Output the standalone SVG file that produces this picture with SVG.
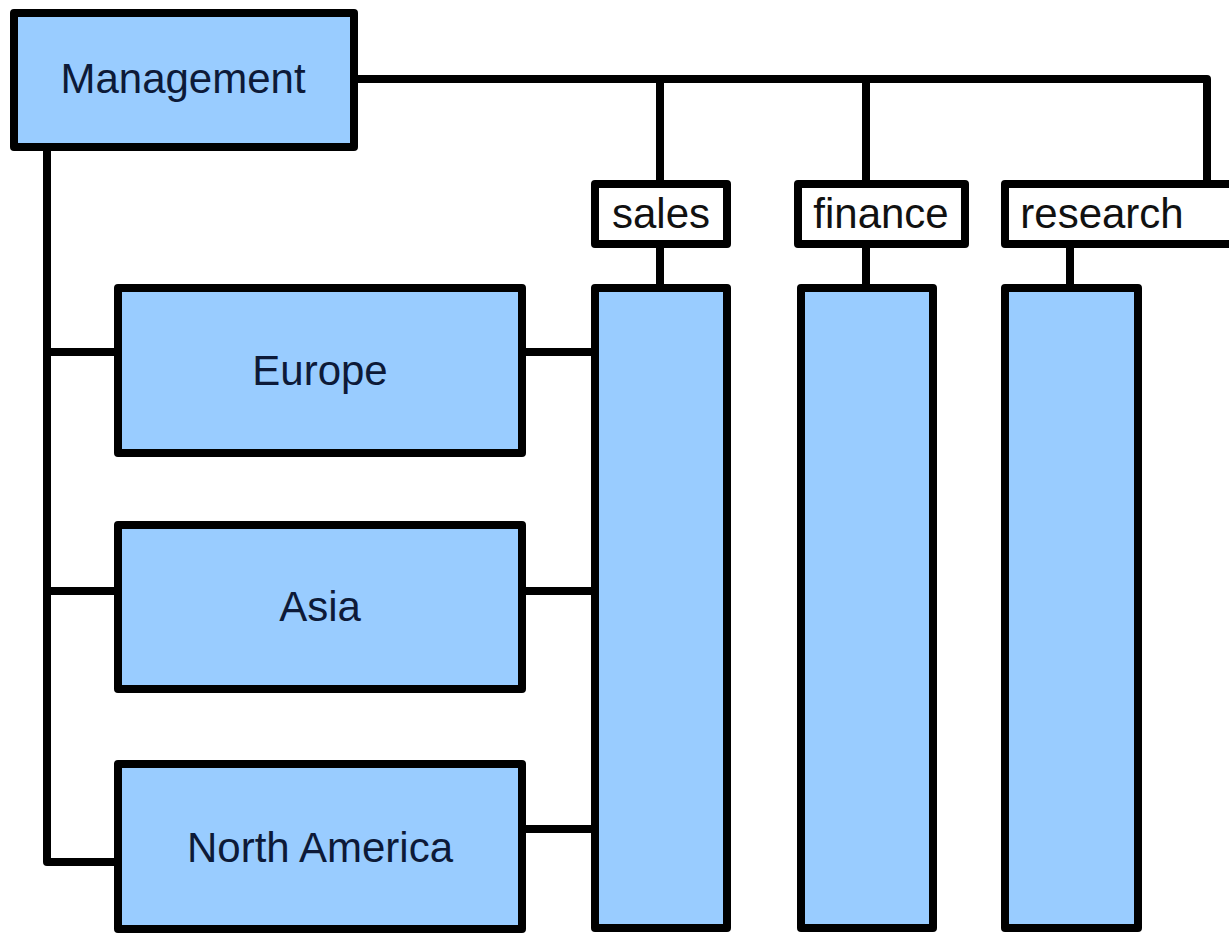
<svg xmlns="http://www.w3.org/2000/svg" width="1229" height="935" viewBox="0 0 1229 935">
<style>
.box{fill:#99ccff;stroke:#000;stroke-width:8;stroke-linejoin:round}
.lbl{fill:#fff;stroke:#000;stroke-width:8;stroke-linejoin:round}
.conn{fill:none;stroke:#000;stroke-width:8;stroke-linejoin:round}
.t{font-family:"Liberation Sans",Arial,sans-serif;font-size:42px;fill:#0d1a38;text-anchor:middle}
.ts{font-family:"Liberation Sans",Arial,sans-serif;font-size:42px;fill:#111;text-anchor:middle}
</style>
<rect width="1229" height="935" fill="#fff"/>
<g id="connectors">
<path class="conn" d="M47 146 V862 H118"/>
<path class="conn" d="M47 352 H118"/>
<path class="conn" d="M47 591 H118"/>
<path class="conn" d="M522 352 H595"/>
<path class="conn" d="M522 591 H595"/>
<path class="conn" d="M522 829 H595"/>
<path class="conn" d="M353 79 H1207 V184"/>
<path class="conn" d="M660 79 V184"/>
<path class="conn" d="M866 79 V184"/>
<path class="conn" d="M660 244 V288"/>
<path class="conn" d="M866 244 V288"/>
<path class="conn" d="M1070 244 V288"/>
</g>
<g id="management">
<rect class="box" x="14" y="13" width="340" height="134"/>
<text class="t" x="183" y="93">Management</text>
</g>
<g id="europe">
<rect class="box" x="118" y="288" width="404" height="165"/>
<text class="t" x="320" y="385">Europe</text>
</g>
<g id="asia">
<rect class="box" x="118" y="525" width="404" height="164"/>
<text class="t" x="320" y="621">Asia</text>
</g>
<g id="north-america">
<rect class="box" x="118" y="764" width="404" height="165"/>
<text class="t" x="320" y="862">North America</text>
</g>
<g id="sales">
<rect class="lbl" x="595" y="184" width="132" height="60"/>
<text class="ts" x="661" y="228">sales</text>
</g>
<g id="finance">
<rect class="lbl" x="798" y="184" width="167" height="60"/>
<text class="ts" x="881" y="228">finance</text>
</g>
<g id="research">
<rect class="lbl" x="1005" y="184" width="240" height="60"/>
<text class="ts" x="1102" y="228">research</text>
</g>
<g id="sales-bar">
<rect class="box" x="595" y="288" width="132" height="640"/>
</g>
<g id="finance-bar">
<rect class="box" x="801" y="288" width="132" height="640"/>
</g>
<g id="research-bar">
<rect class="box" x="1005" y="288" width="133" height="640"/>
</g>
</svg>
